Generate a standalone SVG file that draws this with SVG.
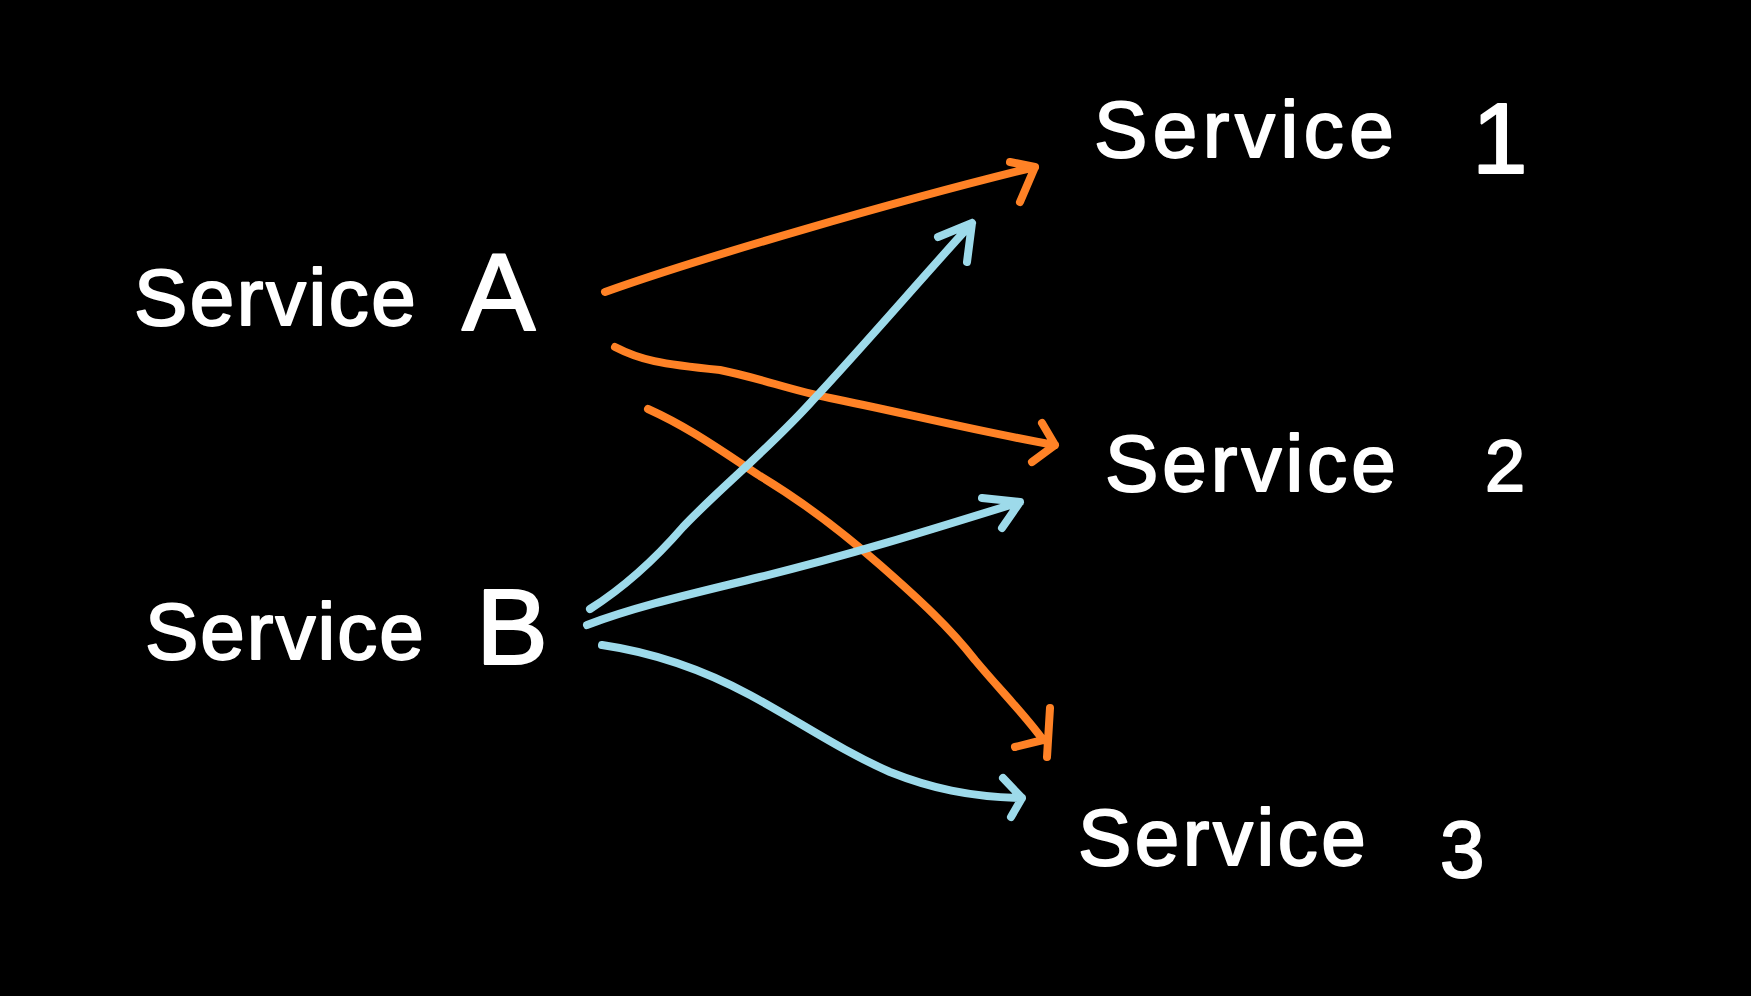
<svg xmlns="http://www.w3.org/2000/svg" width="1751" height="996" viewBox="0 0 1751 996">
<style>
.lbl{font-family:"Liberation Sans","Open Sans",sans-serif;fill:#fff;stroke:#fff;stroke-width:2;stroke-linejoin:round}
.o{fill:none;stroke:#FF8226;stroke-width:8;stroke-linecap:round;stroke-linejoin:round}
.b{fill:none;stroke:#9DDAEA;stroke-width:8;stroke-linecap:round;stroke-linejoin:round}
</style>
<rect width="1751" height="996" fill="#000"/>
<g id="connectors">
<path class="o" d="M605,292 C700,258 900,200 1035,167 M1010,162 L1035,167 L1020,202"/>
<path class="o" d="M615,347 C640,360 660,364 720,370 C760,378 790,390 830,398 C900,412 980,432 1055,445 M1042,423 L1055,445 L1032,462"/>
<path class="o" d="M648,409 C690,428 720,450 760,476 C800,500 840,530 880,565 C920,600 950,628 975,660 C1000,690 1025,715 1043,740 M1015,747 L1043,740 M1050,708 L1047,757"/>
<path class="b" d="M590,609 C620,590 650,565 683,527 C720,488 770,448 813,400 C860,350 920,280 972,223 M938,237 L972,223 L967,262"/>
<path class="b" d="M587,625 C640,605 700,592 760,577 C850,555 930,530 1020,502 M982,498 L1020,502 L1002,528"/>
<path class="b" d="M602,645 C650,652 700,668 750,695 C800,722 840,750 890,772 C930,788 970,797 1022,798 M1003,778 L1022,798 L1011,817"/>
</g>
<g id="service-a"><text class="lbl" x="134" y="325" font-size="80" letter-spacing="2.5">Service<tspan x="462" y="330" font-size="110">A</tspan></text></g>
<g id="service-b"><text class="lbl" x="145" y="659" font-size="80" letter-spacing="2">Service<tspan x="476" y="664" font-size="108">B</tspan></text></g>
<g id="service-1"><text class="lbl" x="1094" y="157" font-size="80" letter-spacing="5.5">Service<tspan x="1472" y="173" font-size="100">1</tspan></text></g>
<g id="service-2"><text class="lbl" x="1105" y="491" font-size="80" letter-spacing="4">Service<tspan x="1485" y="491" font-size="72">2</tspan></text></g>
<g id="service-3"><text class="lbl" x="1078" y="865" font-size="80" letter-spacing="3.5">Service<tspan x="1440" y="877" font-size="80">3</tspan></text></g>
</svg>
